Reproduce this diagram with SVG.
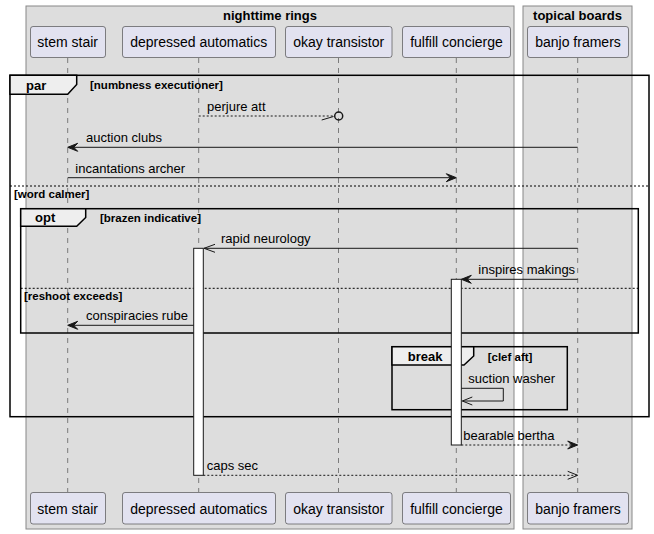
<svg xmlns="http://www.w3.org/2000/svg" width="654" height="534" viewBox="0 0 654 534">
<style>
.boxbg{fill:#DDDDDD;stroke:#888888;stroke-width:1}
.boxt{font-family:"Liberation Sans",Arial,sans-serif;font-size:13px;font-weight:bold;fill:#000;text-anchor:middle}
.part{fill:#E2E2F0;stroke:#181818;stroke-width:0.5}
.pt{font-family:"Liberation Sans",Arial,sans-serif;font-size:14px;fill:#000;text-anchor:middle}
.life{stroke:#181818;stroke-width:0.5;stroke-dasharray:5,5;fill:none}
.frag{fill:none;stroke:#000;stroke-width:1.5}
.tab{fill:#EEEEEE;stroke:#000;stroke-width:1.5}
.ft{font-family:"Liberation Sans",Arial,sans-serif;font-size:13px;font-weight:bold;fill:#000}
.gt{font-family:"Liberation Sans",Arial,sans-serif;font-size:11.5px;font-weight:bold;fill:#000}
.sep{stroke:#000;stroke-width:1;stroke-dasharray:2,2;fill:none}
.act{fill:#FFFFFF;stroke:#181818;stroke-width:1}
.msg{stroke:#181818;stroke-width:1;fill:none}
.dash{stroke-dasharray:2,2}
.head{fill:#181818;stroke:#181818;stroke-width:1}
.open{fill:none;stroke:#181818;stroke-width:1}
.mt{font-family:"Liberation Sans",Arial,sans-serif;font-size:13px;fill:#000}
</style>
<rect width="654" height="534" fill="#FFFFFF"/>
<g id="box-nighttime-rings">
<rect class="boxbg" x="26" y="6" width="488" height="523"/>
<text class="boxt" x="270" y="20">nighttime rings</text>
</g>
<g id="box-topical-boards">
<rect class="boxbg" x="523" y="6" width="109" height="523"/>
<text class="boxt" x="577.5" y="20">topical boards</text>
</g>
<g id="lifelines">
<line class="life" x1="67.7" y1="58" x2="67.7" y2="492"/>
<line class="life" x1="198.7" y1="58" x2="198.7" y2="492"/>
<line class="life" x1="338.5" y1="58" x2="338.5" y2="492"/>
<line class="life" x1="456.3" y1="58" x2="456.3" y2="492"/>
<line class="life" x1="577.7" y1="58" x2="577.7" y2="492"/>
</g>
<g id="stem-stair">
<rect class="part" x="30.5" y="26.5" width="75" height="31" rx="2.5"/>
<text class="pt" x="67.7" y="47">stem stair</text>
<rect class="part" x="30.5" y="492.5" width="75" height="31.5" rx="2.5"/>
<text class="pt" x="67.7" y="513.5">stem stair</text>
</g>
<g id="depressed-automatics">
<rect class="part" x="122.5" y="26.5" width="153" height="31" rx="2.5"/>
<text class="pt" x="198.7" y="47">depressed automatics</text>
<rect class="part" x="122.5" y="492.5" width="153" height="31.5" rx="2.5"/>
<text class="pt" x="198.7" y="513.5">depressed automatics</text>
</g>
<g id="okay-transistor">
<rect class="part" x="285.5" y="26.5" width="106.5" height="31" rx="2.5"/>
<text class="pt" x="338.7" y="47">okay transistor</text>
<rect class="part" x="285.5" y="492.5" width="106.5" height="31.5" rx="2.5"/>
<text class="pt" x="338.7" y="513.5">okay transistor</text>
</g>
<g id="fulfill-concierge">
<rect class="part" x="402.5" y="26.5" width="108" height="31" rx="2.5"/>
<text class="pt" x="456.5" y="47">fulfill concierge</text>
<rect class="part" x="402.5" y="492.5" width="108" height="31.5" rx="2.5"/>
<text class="pt" x="456.5" y="513.5">fulfill concierge</text>
</g>
<g id="banjo-framers">
<rect class="part" x="527.5" y="26.5" width="101" height="31" rx="2.5"/>
<text class="pt" x="578" y="47">banjo framers</text>
<rect class="part" x="527.5" y="492.5" width="101" height="31.5" rx="2.5"/>
<text class="pt" x="578" y="513.5">banjo framers</text>
</g>
<g id="fragment-par">
<rect class="frag" x="10" y="75.3" width="639" height="341.4"/>
<polygon class="tab" points="10,75.3 76.7,75.3 76.7,84.5 67.7,94.3 10,94.3"/>
<text class="ft" x="26" y="89.5">par</text>
<text class="gt" x="90" y="89">[numbness executioner]</text>
<line class="sep" x1="10" y1="186" x2="649" y2="186"/>
<text class="gt" x="14" y="197.5">[word calmer]</text>
</g>
<g id="fragment-opt">
<rect class="frag" x="20.7" y="208.7" width="617.6" height="124.3"/>
<polygon class="tab" points="20.7,208.7 85.7,208.7 85.7,217.5 76.7,226.3 20.7,226.3"/>
<text class="ft" x="35" y="222">opt</text>
<text class="gt" x="100" y="221.5">[brazen indicative]</text>
<line class="sep" x1="20.7" y1="288.3" x2="638.3" y2="288.3"/>
<text class="gt" x="24" y="300">[reshoot exceeds]</text>
</g>
<g id="fragment-break">
<rect class="frag" x="392" y="346.7" width="175.3" height="63"/>
<polygon class="tab" points="392,346.7 473.7,346.7 473.7,356 464,365 392,365"/>
<text class="ft" x="407.7" y="361">break</text>
<text class="gt" x="487.7" y="360.5">[clef aft]</text>
</g>
<g id="activations">
<rect class="act" x="193.7" y="248.3" width="9.6" height="227"/>
<rect class="act" x="451.3" y="279.3" width="10" height="165.7"/>
</g>
<g id="connectors">
<g id="msg-perjure-att">
<line class="msg dash" x1="198.7" y1="116" x2="334.5" y2="116"/>
<line class="msg" x1="321.7" y1="120" x2="333.5" y2="116.5"/>
<circle cx="338.7" cy="116" r="4" fill="none" stroke="#181818" stroke-width="1.5"/>
<text class="mt" x="207" y="111">perjure att</text>
</g>
<g id="msg-auction-clubs">
<line class="msg" x1="577.7" y1="147.3" x2="69" y2="147.3"/>
<polygon class="head" points="67.7,147.3 77.7,143.3 73.7,147.3 77.7,151.3"/>
<text class="mt" x="86" y="142.3">auction clubs</text>
</g>
<g id="msg-incantations-archer">
<line class="msg" x1="67.7" y1="177.7" x2="455" y2="177.7"/>
<polygon class="head" points="456.3,177.7 446.3,173.7 450.3,177.7 446.3,181.7"/>
<text class="mt" x="75.3" y="172.7">incantations archer</text>
</g>
<g id="msg-rapid-neurology">
<line class="msg" x1="577.7" y1="248.3" x2="204" y2="248.3"/>
<polyline class="open" points="215,244.3 204,248.3 215,252.3"/>
<text class="mt" x="221" y="243.3">rapid neurology</text>
</g>
<g id="msg-inspires-makings">
<line class="msg" x1="577.7" y1="279.3" x2="462.5" y2="279.3"/>
<polygon class="head" points="461.3,279.3 471.3,275.3 467.3,279.3 471.3,283.3"/>
<text class="mt" x="478.3" y="274.3">inspires makings</text>
</g>
<g id="msg-conspiracies-rube">
<line class="msg" x1="193.7" y1="325.3" x2="69" y2="325.3"/>
<polygon class="head" points="67.7,325.3 77.7,321.3 73.7,325.3 77.7,329.3"/>
<text class="mt" x="86" y="320.3">conspiracies rube</text>
</g>
<g id="msg-suction-washer">
<polyline class="msg" points="461.3,388.3 503.3,388.3 503.3,401 462.5,401"/>
<polyline class="open" points="472.3,397 462.3,401 472.3,405"/>
<text class="mt" x="468.3" y="383.3">suction washer</text>
</g>
<g id="msg-bearable-bertha">
<line class="msg dash" x1="461.3" y1="445" x2="576" y2="445"/>
<polygon class="head" points="577.7,445 567.7,441 571.7,445 567.7,449"/>
<text class="mt" x="463.3" y="440">bearable bertha</text>
</g>
<g id="msg-caps-sec">
<line class="msg dash" x1="203.3" y1="475.3" x2="577" y2="475.3"/>
<polyline class="open" points="567.7,471.3 577.7,475.3 567.7,479.3"/>
<text class="mt" x="206.7" y="470.3">caps sec</text>
</g>
</g>
</svg>
